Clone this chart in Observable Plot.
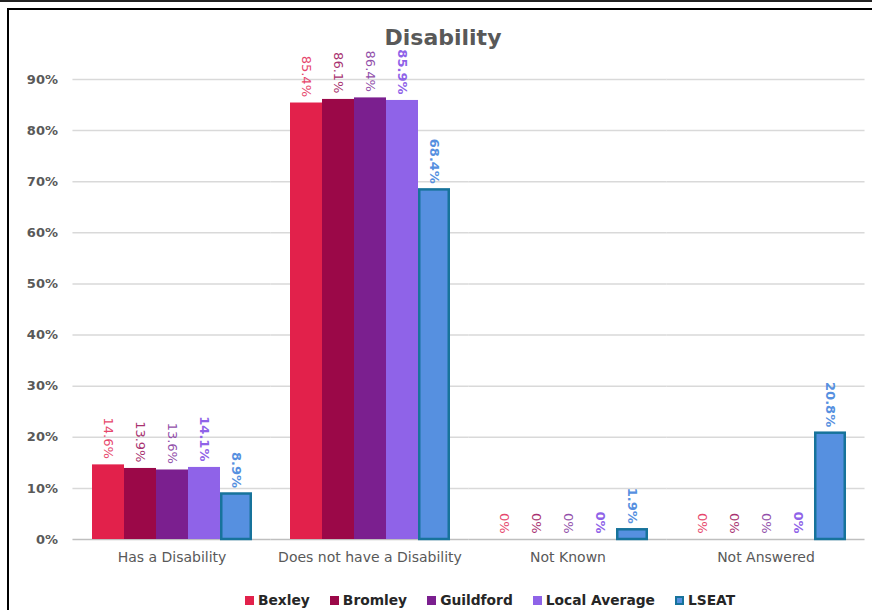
<!DOCTYPE html>
<html>
<head>
<meta charset="utf-8">
<script src="https://cdn.jsdelivr.net/npm/d3@7"></script>
<script src="https://cdn.jsdelivr.net/npm/@observablehq/plot@0.6"></script>
<style>
  html, body { margin: 0; padding: 0; background: #fff; }
  body { width: 872px; height: 610px; position: relative; overflow: hidden; font-family: "DejaVu Sans", sans-serif; }
  #topline { position: absolute; left: 0; top: 0; width: 872px; height: 2px; background: #222; }
  #frame { position: absolute; left: 7px; top: 8px; width: 900px; height: 700px; border-left: 2px solid #000; border-top: 2px solid #000; }
  #title { position: absolute; left: 0; width: 886px; top: 25px; text-align: center; font-size: 22px; font-weight: bold; color: #595959; line-height: 26px; }
  #chart { position: absolute; left: 0; top: 0; }
  #legend { position: absolute; left: 245px; top: 592px; display: flex; align-items: center; gap: 20px; font-size: 13.8px; font-weight: bold; color: #262626; }
  .item { display: flex; align-items: center; gap: 4px; }
  .sw { width: 9px; height: 9px; box-sizing: border-box; }
</style>
</head>
<body>
<div id="topline"></div>
<div id="frame"></div>
<div id="chart"></div>
<div id="title">Disability</div>
<div id="legend"></div>
<script>
const categories = ["Has a Disability", "Does not have a Disability", "Not Known", "Not Answered"];
const series = ["Bexley", "Bromley", "Guildford", "Local Average", "LSEAT"];
const bexley = [14.6, 85.4, 0, 0];
const bromley = [13.9, 86.1, 0, 0];
const guildford = [13.6, 86.4, 0, 0];
const localAverage = [14.1, 85.9, 0, 0];
const lseat = [8.9, 68.4, 1.9, 20.8];
const yTicks = [0, 10, 20, 30, 40, 50, 60, 70, 80, 90];

const barColors = ["#e2214b", "#9b0848", "#7b1f8f", "#8f63e8", "#5690e0"];
const labelColors = ["#e6476c", "#a83270", "#9250aa", "#8f63e8", "#5690e0"];
const labelWeights = ["normal", "normal", "normal", "bold", "bold"];

const valuesBySeries = [bexley, bromley, guildford, localAverage, lseat];
const data = [];
series.forEach((s, j) => {
  categories.forEach((c, i) => {
    data.push({category: c, series: s, value: valuesBySeries[j][i]});
  });
});

const fmt = v => v === 0 ? "0%" : v.toFixed(1) + "%";

const PAD_IN = 0.187, PAD_OUT = 0.0935;
// half of the gap between groups, so grid lines join across facets
const step = (872 - 72 - 7) / (categories.length - PAD_IN + 2 * PAD_OUT);
const halfGap = step * PAD_IN / 2;

const marks = [
  Plot.ruleY(yTicks.filter(t => t > 0), {stroke: "#d9d9d9", strokeWidth: 1.5, insetLeft: -halfGap, insetRight: -halfGap}),
  Plot.ruleY([0], {stroke: "#bfbfbf", strokeWidth: 1.5, insetLeft: -halfGap, insetRight: -halfGap}),
  Plot.axisY(yTicks, {tickSize: 0, tickPadding: 15 + halfGap, tickFormat: d => d + "%", fill: "#595959", fontSize: 13, fontWeight: "bold", label: null}),
  Plot.barY(data.filter(d => d.series !== "LSEAT"), {fx: "category", x: "series", y: "value", fill: "series"}),
  Plot.barY(data.filter(d => d.series === "LSEAT"), {fx: "category", x: "series", y: "value", fill: "series", stroke: "#17739b", strokeWidth: 2.5, insetLeft: 1.25, insetRight: 1.25})
];
series.forEach((s, j) => {
  marks.push(Plot.text(data.filter(d => d.series === s), {
    fx: "category", x: "series", y: "value", text: d => fmt(d.value),
    rotate: 90, textAnchor: "end", dy: -6,
    fill: labelColors[j], fontWeight: labelWeights[j], fontSize: 13
  }));
});
marks.push(Plot.axisFx({anchor: "bottom", tickSize: 0, tickPadding: 13, fontSize: 14, fill: "#595959", label: null}));

const chart = Plot.plot({
  width: 872,
  height: 575,
  marginTop: 79,
  marginBottom: 36,
  marginLeft: 72,
  marginRight: 7,
  style: {fontFamily: "DejaVu Sans, sans-serif", background: "transparent", overflow: "visible"},
  fx: {domain: categories, paddingInner: PAD_IN, paddingOuter: PAD_OUT, label: null},
  x: {domain: series, padding: 0, axis: null},
  y: {domain: [0, 90]},
  color: {domain: series, range: barColors},
  marks
});
document.getElementById("chart").appendChild(chart);

const legend = document.getElementById("legend");
series.forEach((s, j) => {
  const item = document.createElement("div");
  item.className = "item";
  const sw = document.createElement("div");
  sw.className = "sw";
  sw.style.background = barColors[j];
  if (s === "LSEAT") sw.style.border = "2px solid #17739b";
  const t = document.createElement("span");
  t.textContent = s;
  item.appendChild(sw);
  item.appendChild(t);
  legend.appendChild(item);
});
</script>
</body>
</html>
